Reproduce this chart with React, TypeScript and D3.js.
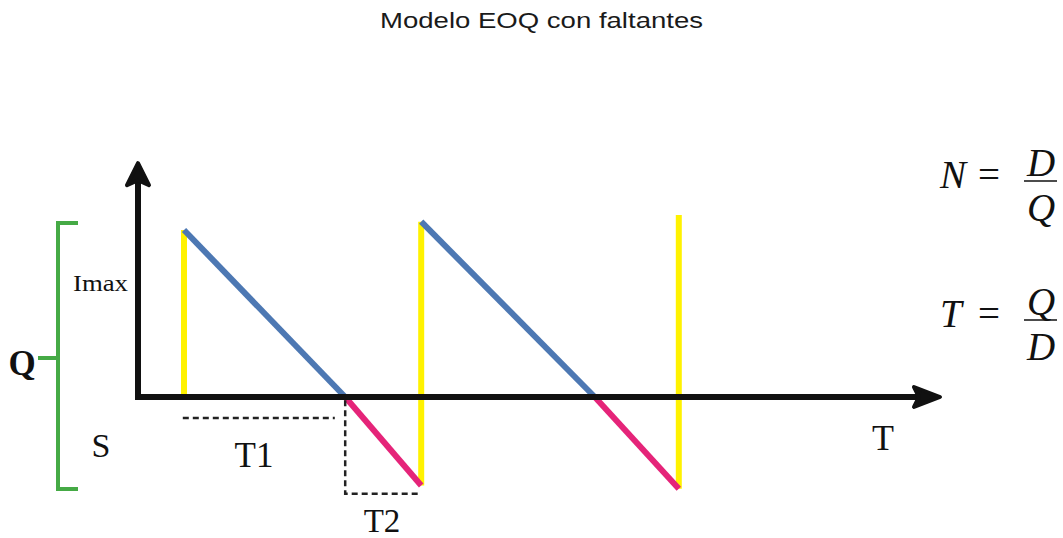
import React, { useEffect, useRef } from 'react';
import * as d3 from 'd3';

interface Pt { t: number; q: number; }

const title = 'Modelo EOQ con faltantes';

// inventory on hand (blue) and shortage (pink) segments
const stockSegments: Pt[][] = [
  [{ t: 5.75, q: 100 }, { t: 25.9, q: 0 }],
  [{ t: 35.4, q: 105 }, { t: 57.1, q: 0 }],
];
const shortageSegments: Pt[][] = [
  [{ t: 25.9, q: 0 }, { t: 35.4, q: -53 }],
  [{ t: 57.1, q: 0 }, { t: 67.6, q: -55 }],
];
// replenishment (yellow) verticals
const orderTimes = [5.75, 35.4, 67.6];
const orderFrom = [0, -53, -55];
const orderTo = [100, 105, 109];

// dashed guides
const t1Guide: Pt[] = [{ t: 5.6, q: -12.6 }, { t: 24.6, q: -12.6 }];
const t2Guide: Pt[] = [{ t: 25.9, q: -2 }, { t: 25.9, q: -58 }, { t: 35.4, q: -58 }];

const W = 1063;
const H = 538;

const App: React.FC = () => {
  const svgRef = useRef<SVGSVGElement>(null);

  const xScale = d3.scaleLinear().domain([0, 100]).range([138, 938]);
  const yScale = d3.scaleLinear().domain([0, 100]).range([397, 230]);

  const line = d3.line<Pt>().x(d => xScale(d.t)).y(d => yScale(d.q));

  useEffect(() => {
    if (!svgRef.current) return;
    const svg = d3.select(svgRef.current);
    svg.selectAll('*').remove();

    const serif = '"Liberation Serif", "DejaVu Serif", serif';

    svg.append('text')
      .attr('x', 380).attr('y', 28)
      .attr('textLength', 323)
      .attr('lengthAdjust', 'spacingAndGlyphs')
      .attr('font-family', 'Arial, "Liberation Sans", sans-serif')
      .attr('font-size', 22)
      .attr('fill', '#1a1a1a')
      .text(title);

    // yellow order lines
    svg.selectAll('.order')
      .data(orderTimes)
      .enter()
      .append('line')
      .attr('x1', d => xScale(d)).attr('x2', d => xScale(d))
      .attr('y1', (_, i) => yScale(orderFrom[i]))
      .attr('y2', (_, i) => yScale(orderTo[i]))
      .attr('stroke', '#fff200')
      .attr('stroke-width', 6);

    svg.selectAll('.stock')
      .data(stockSegments)
      .enter()
      .append('path')
      .attr('d', line)
      .attr('fill', 'none')
      .attr('stroke', '#4d78b3')
      .attr('stroke-width', 6);

    svg.selectAll('.short')
      .data(shortageSegments)
      .enter()
      .append('path')
      .attr('d', line)
      .attr('fill', 'none')
      .attr('stroke', '#e52479')
      .attr('stroke-width', 6);

    // axes
    const ax = '#111';
    const x0 = xScale(0), y0 = yScale(0);
    const yTop = yScale(140);
    const xEnd = xScale(100.25);
    svg.append('path')
      .attr('d', `M${x0},${y0} L${x0},${yTop + 18} M${x0},${y0} L${xEnd - 20},${y0}`)
      .attr('fill', 'none')
      .attr('stroke', ax)
      .attr('stroke-width', 6)
      .attr('stroke-linecap', 'square');
    svg.append('path')
      .attr('d', `M${x0},${yTop} L${x0 + 11},${yTop + 22} L${x0},${yTop + 17} L${x0 - 11},${yTop + 22} Z`)
      .attr('fill', ax).attr('stroke', ax).attr('stroke-width', 4).attr('stroke-linejoin', 'round');
    svg.append('path')
      .attr('d', `M${xEnd},${y0} L${xEnd - 26},${y0 - 10} L${xEnd - 21},${y0} L${xEnd - 26},${y0 + 10} Z`)
      .attr('fill', ax).attr('stroke', ax).attr('stroke-width', 4).attr('stroke-linejoin', 'round');

    // dashed guides
    [t1Guide, t2Guide].forEach(g => {
      svg.append('path')
        .attr('d', line(g))
        .attr('fill', 'none')
        .attr('stroke', '#222')
        .attr('stroke-width', 2.5)
        .attr('stroke-dasharray', '6,4');
    });

    // green bracket for Q
    svg.append('path')
      .attr('d', 'M78,223 L58,223 L58,489 L78,489 M38,358 L58,358')
      .attr('fill', 'none')
      .attr('stroke', '#45aa45')
      .attr('stroke-width', 4);

    const labels = [
      { x: 22, y: 375, s: 'Q', size: 35, w: 'bold', a: 'middle', len: 0 },
      { x: 101, y: 457, s: 'S', size: 34, w: 'normal', a: 'middle', len: 0 },
      { x: 73, y: 291, s: 'Imax', size: 23, w: 'normal', a: 'start', len: 55 },
      { x: 254, y: 467, s: 'T1', size: 35, w: 'normal', a: 'middle', len: 0 },
      { x: 382, y: 532, s: 'T2', size: 33, w: 'normal', a: 'middle', len: 0 },
      { x: 883, y: 450, s: 'T', size: 36, w: 'normal', a: 'middle', len: 0 },
    ];
    svg.selectAll('.lbl')
      .data(labels)
      .enter()
      .append('text')
      .attr('x', d => d.x).attr('y', d => d.y)
      .attr('text-anchor', d => d.a)
      .attr('font-family', serif)
      .attr('font-size', d => d.size)
      .attr('font-weight', d => d.w)
      .attr('textLength', d => (d.len ? d.len : null))
      .attr('lengthAdjust', 'spacingAndGlyphs')
      .attr('fill', '#111')
      .text(d => d.s);

    // formulas
    const formula = (lhs: string, num: string, den: string, barY: number) => {
      const g = svg.append('g').attr('font-family', serif).attr('fill', '#111');
      g.append('text').attr('x', 940).attr('y', barY + 7)
        .attr('font-size', 39).attr('font-style', 'italic').text(lhs);
      g.append('text').attr('x', 978).attr('y', barY + 7)
        .attr('font-size', 39).text('=');
      g.append('line').attr('x1', 1024).attr('x2', 1057).attr('y1', barY).attr('y2', barY)
        .attr('stroke', '#111').attr('stroke-width', 1.5);
      g.append('text').attr('x', 1041).attr('y', barY - 5).attr('text-anchor', 'middle')
        .attr('font-size', 39).attr('font-style', 'italic').text(num);
      g.append('text').attr('x', 1041).attr('y', barY + 40).attr('text-anchor', 'middle')
        .attr('font-size', 39).attr('font-style', 'italic').text(den);
    };
    formula('N', 'D', 'Q', 181);
    formula('T', 'Q', 'D', 320);
  }, []);

  return (
    <svg ref={svgRef} width={W} height={H}
      style={{ position: 'absolute', left: 0, top: 0, background: '#fff' }} />
  );
};

export default App;
